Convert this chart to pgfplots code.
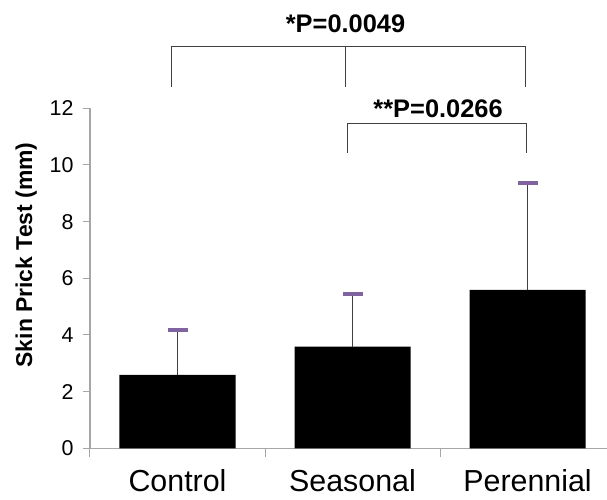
\documentclass[border=0pt]{standalone}
\usepackage{pgfplots}
\pgfplotsset{compat=1.18}
\usepackage{fontspec}
\setmainfont{Liberation Sans}
\definecolor{axisgray}{HTML}{A6A6A6}
\definecolor{capviolet}{HTML}{8064A2}
\definecolor{brk}{HTML}{404040}

\begin{document}
\begin{tikzpicture}
  \begin{axis}[
      scale only axis, width=517bp, height=340bp,
      xmin=-0.5, xmax=2.454, ymin=0, ymax=12,
      enlargelimits=false, clip=false,
      axis lines*=left,
      axis line style={axisgray, line width=1.2bp},
      xtick={0,1,2},
      xticklabels={Control, Seasonal, Perennial},
      minor xtick={-0.5,0.5,1.5},
      ytick={0,2,...,12},
      tick align=outside,
      major tick length=7bp, minor tick length=9bp,
      major x tick style={draw=none},
      minor x tick style={axisgray, line width=1bp},
      y tick style={axisgray, line width=1bp},
      /pgf/number format/assume math mode=true,
      yticklabel style={font=\fontsize{21.5}{24}\selectfont, xshift=-6bp},
      xticklabel style={font=\fontsize{30.5}{34}\selectfont, yshift=-11bp},
      ylabel={\bfseries Skin Prick Test (mm)},
      ylabel style={font=\fontsize{23}{26}\selectfont, at={(axis description cs:-0.112,0.569)}, anchor=base},
    ]
    \addplot[ybar, bar width=0.663, fill=black, draw=none,
      error bars/.cd, y dir=plus, y explicit, error mark=none,
      error bar style={brk, line width=0.9bp}]
      coordinates {(0,2.59) +- (0,1.59) (1,3.59) +- (0,1.87) (2,5.59) +- (0,3.78)};
    % purple caps on the error bars
    \addplot[only marks, mark=-, mark size=10bp,
      mark options={draw=capviolet, line width=4bp}]
      coordinates {(0,4.18) (1,5.46) (2,9.37)};

    \coordinate (BL) at (axis cs:-0.5,0);

    % significance brackets
    \draw[brk, line width=0.9bp] (axis cs:-0.037,12.75) -- (axis cs:-0.037,14.18)
      -- (axis cs:1.99,14.18) -- (axis cs:1.99,12.75);
    \draw[brk, line width=0.9bp] (axis cs:0.961,14.18) -- (axis cs:0.961,12.75);
    \draw[brk, line width=0.9bp] (axis cs:0.973,10.43) -- (axis cs:0.973,11.45)
      -- (axis cs:1.995,11.45) -- (axis cs:1.995,10.43);
    \node[anchor=base, inner sep=0pt, font=\fontsize{25.5}{28}\selectfont\bfseries]
      at (axis cs:0.96,14.66) {*P=0.0049};
    \node[anchor=base, inner sep=0pt, font=\fontsize{25.5}{28}\selectfont\bfseries]
      at (axis cs:1.489,11.67) {**P=0.0266};
  \end{axis}
  \pgfresetboundingbox
  \path[use as bounding box] (BL) ++(-90bp,-51.7bp) rectangle ++(607bp,500bp);
\end{tikzpicture}
\end{document}
